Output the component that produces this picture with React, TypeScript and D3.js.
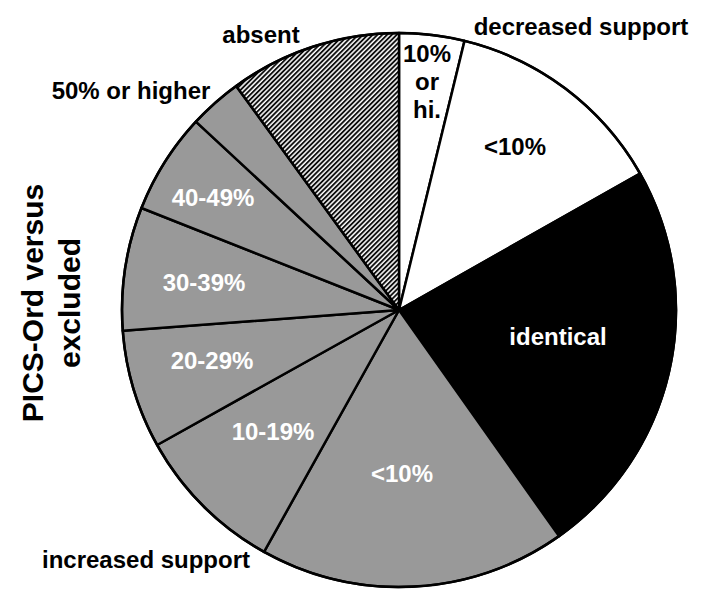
import React from "react";
import * as d3 from "d3";

// Slices clockwise from 12 o'clock
const sliceNames = [
  "10% or hi. (decreased)",
  "<10% (decreased)",
  "identical",
  "<10% (increased)",
  "10-19%",
  "20-29%",
  "30-39%",
  "40-49%",
  "50% or higher",
  "absent",
];
const sliceValues = [3.8, 13.0, 23.4, 17.9, 8.8, 6.9, 7.2, 5.9, 3.1, 10.0];
const sliceKinds = ["white", "white", "black", "gray", "gray", "gray", "gray", "gray", "gray", "hatch"];

// Text labels (lines) with their anchor positions (layout)
const innerLabels = [
  { lines: ["10%", "or", "hi."], color: "#000" },
  { lines: ["<10%"], color: "#000" },
  { lines: ["identical"], color: "#fff" },
  { lines: ["<10%"], color: "#fff" },
  { lines: ["10-19%"], color: "#fff" },
  { lines: ["20-29%"], color: "#fff" },
  { lines: ["30-39%"], color: "#fff" },
  { lines: ["40-49%"], color: "#fff" },
];
const innerLabelPos = [
  [427, 62],
  [515, 155],
  [558, 345],
  [402, 482],
  [273, 440],
  [212, 369],
  [204, 291],
  [213, 206],
];
const outerLabels = ["absent", "decreased support", "50% or higher", "increased support"];
const outerLabelPos = [
  [261, 43],
  [581, 35],
  [131, 99],
  [146, 568],
];
const titleLines = ["PICS-Ord versus", "excluded"];

const W = 704;
const H = 606;
const cx = 399;
const cy = 310;
const R = 277;
const FONT = "'Liberation Sans', Arial, Helvetica, sans-serif";

export default function App() {
  const pie = d3
    .pie<number>()
    .sort(null)
    .value((d) => d)
    .startAngle(0)
    .endAngle(2 * Math.PI);
  const arcs = pie(sliceValues);
  const arc = d3.arc<d3.PieArcDatum<number>>().innerRadius(0).outerRadius(R);

  const fillFor = (k: string) =>
    k === "white" ? "#ffffff" : k === "black" ? "#000000" : k === "gray" ? "#999999" : "url(#hatch)";

  return (
    <svg
      width={W}
      height={H}
      viewBox={`0 0 ${W} ${H}`}
      style={{ position: "absolute", left: 0, top: 0, background: "#fff" }}
    >
      <defs>
        <pattern
          id="hatch"
          patternUnits="userSpaceOnUse"
          width={3.4}
          height={10}
          patternTransform="rotate(45)"
        >
          <rect width={3.4} height={10} fill="#fff" />
          <line x1={1} y1={0} x2={1} y2={10} stroke="#000" strokeWidth={1.8} />
        </pattern>
      </defs>
      <rect width={W} height={H} fill="#fff" />
      <g transform={`translate(${cx},${cy})`}>
        {arcs.map((a, i) => (
          <path
            key={sliceNames[i]}
            d={arc(a) || ""}
            fill={fillFor(sliceKinds[i])}
            stroke="#000"
            strokeWidth={2.5}
            strokeLinejoin="round"
          />
        ))}
        <circle r={R} fill="none" stroke="#000" strokeWidth={2.5} />
      </g>
      <g fontFamily={FONT} fontWeight="bold" fontSize={24} textAnchor="middle">
        {innerLabels.map((l, i) => (
          <text key={"in" + i} x={innerLabelPos[i][0]} y={innerLabelPos[i][1]} fill={l.color}>
            {l.lines.map((ln, j) => (
              <tspan key={j} x={innerLabelPos[i][0]} dy={j === 0 ? 0 : 28}>
                {ln}
              </tspan>
            ))}
          </text>
        ))}
        {outerLabels.map((t, i) => (
          <text key={"out" + i} x={outerLabelPos[i][0]} y={outerLabelPos[i][1]} fill="#000">
            {t}
          </text>
        ))}
      </g>
      <g transform="translate(43,303) rotate(-90)" fontFamily={FONT} fontWeight="bold" fontSize={30} textAnchor="middle">
        {titleLines.map((t, i) => (
          <text key={t} x={0} y={i * 37} fill="#000">
            {t}
          </text>
        ))}
      </g>
    </svg>
  );
}
